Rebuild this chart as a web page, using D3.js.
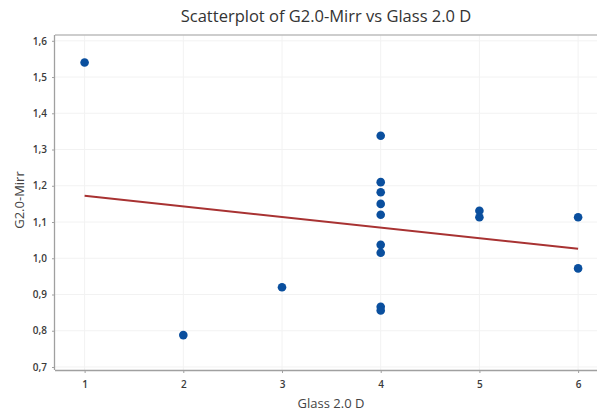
<!DOCTYPE html>
<html>
<head>
<meta charset="utf-8">
<script src="https://cdn.jsdelivr.net/npm/d3@7"></script>
<style>
  html, body { margin: 0; padding: 0; background: #fff; }
  svg { display: block; font-family: "Open Sans", "Noto Sans", sans-serif; }
</style>
</head>
<body>
<svg id="chart" width="597" height="412"></svg>
<script>
const title = "Scatterplot of G2.0-Mirr vs Glass 2.0 D";
const xLabel = "Glass 2.0 D";
const yLabel = "G2.0-Mirr";
const xValues = [1, 2, 3, 4, 4, 4, 4, 4, 4, 4, 4, 4, 5, 5, 6, 6];
const yValues = [1.54, 0.788, 0.92, 1.338, 1.21, 1.182, 1.15, 1.12, 1.037, 1.015, 0.866, 0.856, 1.131, 1.113, 1.113, 0.972];
const xTicks = [1, 2, 3, 4, 5, 6];
const yTicks = [0.7, 0.8, 0.9, 1.0, 1.1, 1.2, 1.3, 1.4, 1.5, 1.6];

(function () {
const svg = d3.select("#chart");
const pL = 55, pT = 35, pB = 370, pR = 597;

const x = d3.scaleLinear().domain([0.7, 6.3]).range([pL, pL + 5.6 * 98.7]);
const y = d3.scaleLinear().domain([0.6917, 1.616]).range([pB, pT]);

svg.append("clipPath").attr("id", "plotclip")
  .append("rect").attr("x", pL).attr("y", pT).attr("width", pR - pL).attr("height", pB - pT);

// gridlines
const grid = svg.append("g").attr("clip-path", "url(#plotclip)");
grid.selectAll("line.vg").data(xTicks).join("line").attr("class", "vg")
  .attr("x1", d => x(d)).attr("x2", d => x(d))
  .attr("y1", pT).attr("y2", pB)
  .attr("stroke", "#f2f2f2").attr("stroke-width", 1);
grid.selectAll("line.hg").data(yTicks).join("line").attr("class", "hg")
  .attr("x1", pL).attr("x2", pR)
  .attr("y1", d => y(d)).attr("y2", d => y(d))
  .attr("stroke", "#f2f2f2").attr("stroke-width", 1);

// top border
svg.append("line").attr("x1", pL).attr("x2", pR).attr("y1", pT).attr("y2", pT)
  .attr("stroke", "#bdbdbd").attr("stroke-width", 1.5);

const fmtComma = d => d3.format(".1f")(d).replace(".", ",");

// axes
const xAxis = svg.append("g").attr("transform", `translate(0,${pB})`)
  .call(d3.axisBottom(x).tickValues(xTicks).tickFormat(d3.format("d")).tickSize(3).tickSizeOuter(0));
const yAxis = svg.append("g").attr("transform", `translate(${pL},0)`)
  .call(d3.axisLeft(y).tickValues(yTicks).tickFormat(fmtComma).tickSize(3).tickSizeOuter(0));

[xAxis, yAxis].forEach(g => {
  g.select(".domain").attr("stroke", "#a0a0a0").attr("stroke-width", 1.3);
  g.selectAll(".tick line").attr("stroke", "#a0a0a0");
  g.selectAll(".tick text").attr("fill", "#3a3a3a").attr("font-size", 10)
    .attr("font-weight", 600).attr("font-family", "\"Open Sans\", sans-serif");
});
xAxis.select(".domain").attr("d", `M${pL},0.5H${pR}`);
yAxis.select(".domain").attr("d", `M-0.5,${pT}V${pB}`);
xAxis.selectAll(".tick text").attr("dy", "1.2em");
yAxis.selectAll(".tick text").attr("dx", "-2");

// regression line computed from the data
const n = xValues.length;
const mx = d3.mean(xValues), my = d3.mean(yValues);
let sxy = 0, sxx = 0;
for (let i = 0; i < n; i++) { sxy += (xValues[i] - mx) * (yValues[i] - my); sxx += (xValues[i] - mx) ** 2; }
const slope = sxy / sxx, intercept = my - slope * mx;
const [x0, x1] = d3.extent(xValues);
svg.append("line")
  .attr("x1", x(x0)).attr("y1", y(intercept + slope * x0))
  .attr("x2", x(x1)).attr("y2", y(intercept + slope * x1))
  .attr("stroke", "#a83232").attr("stroke-width", 2);

// points
svg.append("g").selectAll("circle").data(xValues.map((v, i) => [v, yValues[i]])).join("circle")
  .attr("cx", d => x(d[0])).attr("cy", d => y(d[1])).attr("r", 4.3)
  .attr("fill", "#0a4f9e");

// title and labels
svg.append("text").attr("x", 326).attr("y", 22).attr("text-anchor", "middle")
  .attr("font-size", 16.5).attr("font-weight", 500).attr("fill", "#333").text(title);
svg.append("text").attr("x", 331).attr("y", 408).attr("text-anchor", "middle")
  .attr("font-size", 13).attr("fill", "#444").text(xLabel);
svg.append("text").attr("transform", "translate(24,200) rotate(-90)").attr("text-anchor", "middle")
  .attr("font-size", 13).attr("fill", "#444").text(yLabel);
})();
</script>
</body>
</html>
